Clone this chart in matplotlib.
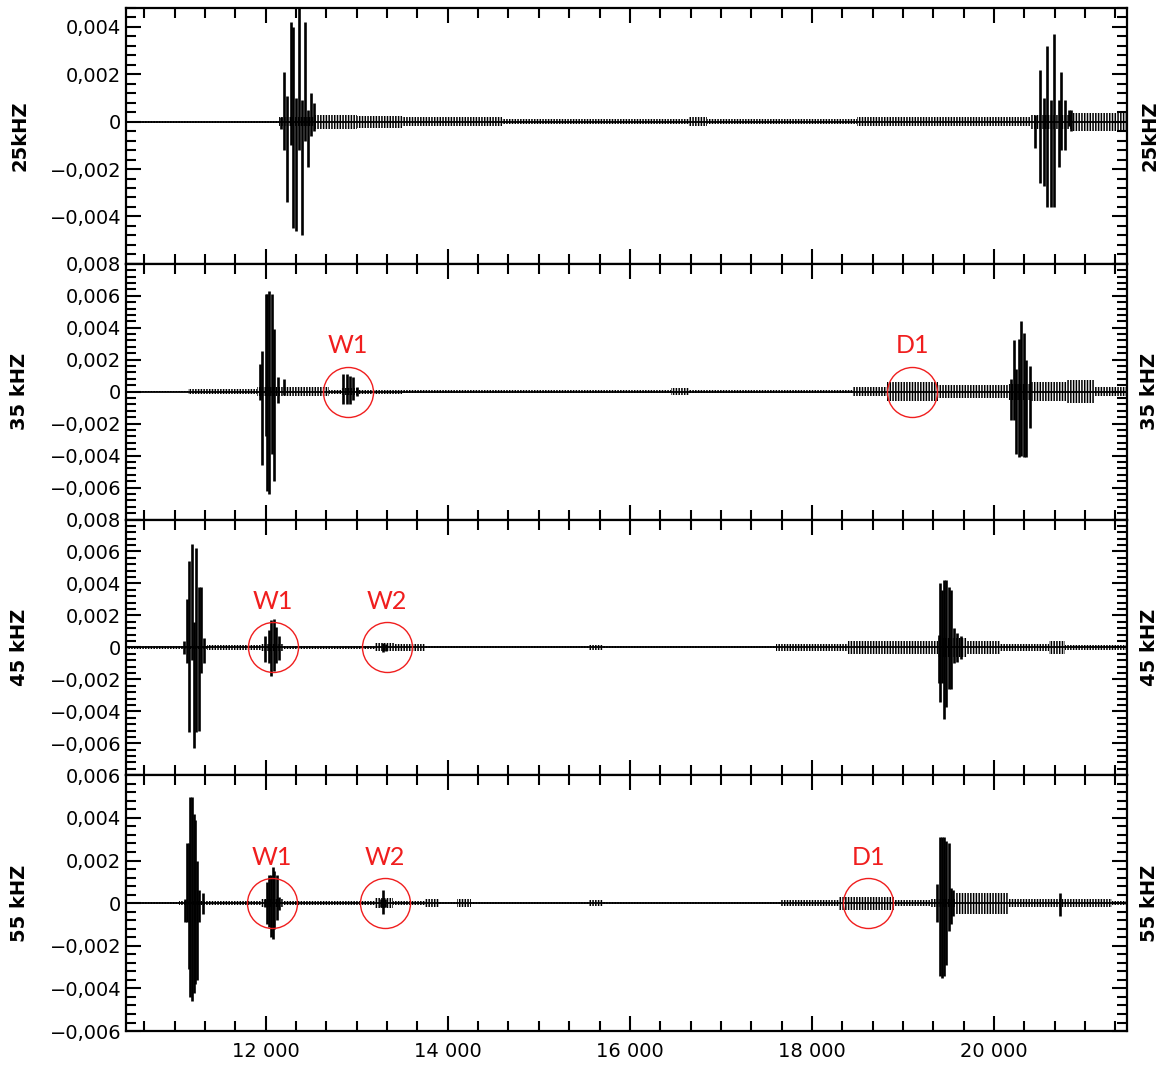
import numpy as np
import matplotlib
matplotlib.use("Agg")
from matplotlib import pyplot as plt
from matplotlib.ticker import MultipleLocator, AutoMinorLocator, FuncFormatter

# panel names (left and right labels)
labels = ["25kHZ", "35 kHZ", "45 kHZ", "55 kHZ"]
ylims = [(-0.006, 0.0048), (-0.008, 0.008), (-0.008, 0.008), (-0.006, 0.006)]
x_minor_div = [5, 6, 6, 6]

# --- 25 kHz ---
p1_x = [12168, 12201, 12234, 12278, 12300, 12333, 12366, 12399, 12432, 12465, 12498, 12531,
        20454, 20502, 20546, 20583, 20627, 20663, 20711, 20740, 20784, 20820, 20847]
p1_top = [0.0002, 0.0021, 0.0011, 0.0042, 0.0040, 0.0010, 0.0050, 0.0009, 0.0042, 0.0005, 0.0012, 0.0008,
          0.0003, 0.0022, 0.0010, 0.0032, 0.0009, 0.0037, 0.0009, 0.0021, 0.0009, 0.0005, 0.0005]
p1_bot = [-0.0003, -0.0012, -0.0034, -0.0010, -0.0045, -0.0046, -0.0012, -0.0048, -0.0008, -0.0019, -0.0006, -0.0004,
          -0.0011, -0.0026, -0.0027, -0.0036, -0.0036, -0.0036, -0.0019, -0.0012, -0.0012, -0.0002, -0.0004]
p1_noise_x = [10465, 12150, 12530, 13000, 13500, 14600, 16650, 16850, 18500, 20400, 20850, 21460]
p1_noise_a = [0.00004, 0.0002, 0.0003, 0.00025, 0.0002, 0.0001, 0.0002, 0.0001, 0.0002, 0.0003, 0.00038, 0.00038]

# --- 35 kHz ---
p2_x = [11937, 11963, 12000, 12011, 12040, 12066, 12091, 12139, 12201,
        12853, 12890, 12926, 12963, 13000,
        20188, 20216, 20246, 20271, 20297, 20326, 20356, 20392]
p2_top = [0.0017, 0.00255, 0.0061, 0.0061, 0.0063, 0.0061, 0.0039, 0.0009, 0.0008,
          0.0011, 0.0011, 0.0010, 0.0009, 0.0003,
          0.0008, 0.0032, 0.0014, 0.0033, 0.0044, 0.0037, 0.0020, 0.0016]
p2_bot = [-0.0005, -0.0046, -0.0028, -0.0062, -0.0064, -0.0039, -0.0056, -0.0007, -0.0002,
          -0.0008, -0.0008, -0.0008, -0.0005, -0.0003,
          -0.0018, -0.0018, -0.0039, -0.0041, -0.0040, -0.0041, -0.0041, -0.0023]
p2_noise_x = [10465, 11150, 11900, 12150, 12700, 12830, 13020, 13500, 16450, 16650, 18450, 18820,
              19380, 20150, 20400, 20800, 21100, 21460]
p2_noise_a = [0.00003, 0.00015, 0.0003, 0.0003, 0.00012, 0.0002, 0.00012, 0.0001, 0.0002, 0.0001, 0.0003, 0.0006,
              0.0004, 0.0005, 0.0006, 0.0007, 0.0003, 0.0003]

# --- 45 kHz ---
p3_x = [11105, 11135, 11160, 11187, 11209, 11234, 11264, 11289, 11325,
        11996, 12033, 12058, 12088, 12113, 12149,
        13290, 13320,
        19392, 19411, 19429, 19455, 19477, 19502, 19529, 19557, 19590, 19640]
p3_top = [0.0004, 0.0030, 0.0054, 0.0065, 0.0016, 0.0062, 0.0038, 0.0038, 0.0006,
          0.0007, 0.0011, 0.0017, 0.0018, 0.0013, 0.0007,
          0.0003, 0.0002,
          0.0008, 0.0040, 0.0036, 0.0042, 0.0042, 0.0038, 0.0036, 0.0012, 0.0009, 0.0007]
p3_bot = [-0.0004, -0.0010, -0.0053, -0.0008, -0.0063, -0.0053, -0.0052, -0.0016, -0.0010,
          -0.0009, -0.0010, -0.0018, -0.0015, -0.0010, -0.0008,
          -0.0003, -0.0002,
          -0.0022, -0.0034, -0.0022, -0.0045, -0.0037, -0.0026, -0.0026, -0.0010, -0.0009, -0.0007]
p3_noise_x = [10465, 11050, 11350, 11950, 12200, 13200, 13420, 13750, 15550, 15700, 17600, 18400,
              19380, 19700, 20070, 20600, 20780, 21460]
p3_noise_a = [0.00008, 0.0001, 0.00015, 0.0002, 0.00007, 0.00025, 0.0002, 0.00006, 0.00018, 0.00006, 0.0002, 0.0004,
              0.0006, 0.0004, 0.0002, 0.0004, 0.00015, 0.00015]

# --- 55 kHz ---
p4_x = [11117, 11135, 11154, 11171, 11190, 11209, 11227, 11245, 11270, 11314,
        11990, 12011, 12033, 12058, 12077, 12095, 12121, 12150,
        13270, 13292, 13315,
        19374, 19403, 19429, 19455, 19477, 19502, 19529, 19550,
        20720]
p4_top = [0.0002, 0.0028, 0.0028, 0.0050, 0.0050, 0.0042, 0.0039, 0.0020, 0.0006, 0.0005,
          0.0002, 0.0010, 0.0013, 0.0013, 0.0017, 0.0015, 0.0013, 0.0003,
          0.0002, 0.0006, 0.0002,
          0.0009, 0.0031, 0.0031, 0.0031, 0.0029, 0.0028, 0.0007, 0.0006,
          0.0005]
p4_bot = [-0.0009, -0.0009, -0.0031, -0.0044, -0.0046, -0.0042, -0.0038, -0.0036, -0.0009, -0.0005,
          -0.0002, -0.0010, -0.0011, -0.0016, -0.0017, -0.0012, -0.0008, -0.0003,
          -0.0002, -0.0005, -0.0002,
          -0.0009, -0.0034, -0.0035, -0.0034, -0.0029, -0.0013, -0.0010, -0.0006,
          -0.0006]
p4_noise_x = [10465, 11050, 11350, 11950, 12200, 13200, 13400, 13750, 13900, 14100, 14250, 15550, 15700,
              17650, 18300, 18900, 19300, 19575, 19850, 20150, 21300, 21460]
p4_noise_a = [0.00005, 0.0001, 0.0001, 0.00018, 0.00008, 0.00025, 0.00008, 0.0002, 0.00006, 0.0002, 0.00006,
              0.00015, 0.00006, 0.00015, 0.0003, 0.00015, 0.0002, 0.0005, 0.0005, 0.0002, 0.0001, 0.0001]

# marked echoes: (panel index, x, text)
marks_panel = [1, 1, 2, 2, 3, 3, 3]
marks_x = [12900, 19100, 12080, 13335, 12070, 13310, 18620]
marks_text = ["W1", "D1", "W1", "W2", "W1", "W2", "D1"]

strokes = [(p1_x, p1_top, p1_bot), (p2_x, p2_top, p2_bot),
           (p3_x, p3_top, p3_bot), (p4_x, p4_top, p4_bot)]
noise = [(p1_noise_x, p1_noise_a), (p2_noise_x, p2_noise_a),
         (p3_noise_x, p3_noise_a), (p4_noise_x, p4_noise_a)]

plt.rcParams['font.family'] = ['DejaVu Sans']
plt.rcParams['hatch.linewidth'] = 1.1


def y_formatter(lo, hide_bottom):
    def fmt(v, pos):
        if hide_bottom and abs(v - lo) < 1e-9:
            return ""
        if abs(v) < 1e-12:
            return "0"
        s = f"{abs(v):.3f}".replace(".", ",")
        return ("\u2212" if v < 0 else "") + s
    return FuncFormatter(fmt)


fig, axes = plt.subplots(4, 1, sharex=True, figsize=(11.63, 10.68), dpi=100)
fig.subplots_adjust(left=0.1083, right=0.969, top=0.9925, bottom=0.0346, hspace=0)

red = "#f01e1e"
for i, ax in enumerate(axes):
    nx, na = noise[i]
    na = np.array(na)
    ax.fill_between(nx, -na, na, step="post", facecolor="none", edgecolor="black",
                    hatch="||||||", linewidth=0)
    ax.axhline(0, color="black", lw=1.3, zorder=2)
    sx, st, sb = strokes[i]
    ax.vlines(sx, sb, st, color="black", lw=1.9, zorder=3)

    ax.set_xlim(10465, 21460)
    ax.set_ylim(*ylims[i])
    ax.xaxis.set_major_locator(MultipleLocator(2000))
    ax.xaxis.set_minor_locator(AutoMinorLocator(x_minor_div[i]))
    ax.yaxis.set_major_locator(MultipleLocator(0.002))
    ax.yaxis.set_minor_locator(AutoMinorLocator(5))
    ax.yaxis.set_major_formatter(y_formatter(ylims[i][0], i < 3))
    ax.xaxis.set_major_formatter(FuncFormatter(lambda v, p: f"{int(v):,}".replace(",", " ")))
    ax.tick_params(which="both", direction="in", top=True, right=True, width=1.5,
                   labelsize=14, colors="black")
    ax.tick_params(which="major", length=11)
    ax.tick_params(which="minor", length=7)
    ax.tick_params(axis="x", which="major", pad=8)
    for sp in ax.spines.values():
        sp.set_linewidth(1.6)

    ax.text(-0.106, 0.5, labels[i], transform=ax.transAxes, rotation=90,
            ha="center", va="center", fontsize=14, fontweight="bold")
    ax.text(1.023, 0.5, labels[i], transform=ax.transAxes, rotation=90,
            ha="center", va="center", fontsize=14, fontweight="bold")

for pi, mx, mt in zip(marks_panel, marks_x, marks_text):
    ax = axes[pi]
    ax.plot([mx], [0], marker="o", markersize=36, markerfacecolor="none",
            markeredgecolor=red, markeredgewidth=1.0, zorder=4)
    ax.annotate(mt, (mx, 0), xytext=(0, 33), textcoords="offset points",
                ha="center", va="center", color=red, fontsize=18, family="Lato")

fig.savefig("out.png", dpi=100)
